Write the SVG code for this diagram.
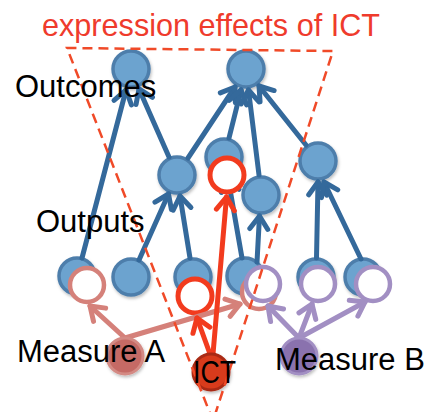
<svg xmlns="http://www.w3.org/2000/svg" width="429" height="412" viewBox="0 0 429 412">
  <defs>
    <filter id="shadow" x="-30%" y="-30%" width="160%" height="160%">
      <feDropShadow dx="1" dy="2" stdDeviation="1.5" flood-color="#000" flood-opacity="0.25"/>
    </filter>
    <marker id="arrow-blue" markerUnits="userSpaceOnUse" viewBox="-18 -12 22 24" refX="0" refY="0" markerWidth="22" markerHeight="24" orient="auto">
      <path d="M-13,-9 L0,0 L-13,9" fill="none" stroke="#34699b" stroke-width="5" stroke-linecap="round" stroke-linejoin="round"/>
    </marker>
    <marker id="arrow-red" markerUnits="userSpaceOnUse" viewBox="-18 -12 22 24" refX="0" refY="0" markerWidth="22" markerHeight="24" orient="auto">
      <path d="M-13,-9 L0,0 L-13,9" fill="none" stroke="#f23b1e" stroke-width="5" stroke-linecap="round" stroke-linejoin="round"/>
    </marker>
    <marker id="arrow-pink" markerUnits="userSpaceOnUse" viewBox="-18 -12 22 24" refX="0" refY="0" markerWidth="22" markerHeight="24" orient="auto">
      <path d="M-13,-9 L0,0 L-13,9" fill="none" stroke="#d5817a" stroke-width="5" stroke-linecap="round" stroke-linejoin="round"/>
    </marker>
    <marker id="arrow-purple" markerUnits="userSpaceOnUse" viewBox="-18 -12 22 24" refX="0" refY="0" markerWidth="22" markerHeight="24" orient="auto">
      <path d="M-13,-9 L0,0 L-13,9" fill="none" stroke="#a28fc3" stroke-width="5" stroke-linecap="round" stroke-linejoin="round"/>
    </marker>
  </defs>
  <style>
    .blue { fill: #6ca3cf; stroke: #4e7eab; stroke-width: 3.5; filter: url(#shadow); }
    .ring-red { fill: #fff; stroke: #f23b1e; stroke-width: 5; }
    .ring-pink { fill: #fff; stroke: #d5817a; stroke-width: 4.5; }
    .ring-purple { fill: #fff; stroke: #a28fc3; stroke-width: 4.5; }
    .e-blue { fill: none; stroke: #34699b; stroke-width: 5; stroke-linecap: round; marker-end: url(#arrow-blue); }
    .e-red { fill: none; stroke: #f23b1e; stroke-width: 5; stroke-linecap: round; marker-end: url(#arrow-red); }
    .e-pink { fill: none; stroke: #d5817a; stroke-width: 5; stroke-linecap: round; marker-end: url(#arrow-pink); }
    .e-purple { fill: none; stroke: #a28fc3; stroke-width: 5; stroke-linecap: round; marker-end: url(#arrow-purple); }
    .label { font-family: "Liberation Sans", Arial, sans-serif; font-size: 31px; fill: #000; }
    .title { font-family: "Liberation Sans", Arial, sans-serif; font-size: 30.5px; fill: #ef3b2c; }
    .cone { fill: none; stroke: #f04a28; stroke-width: 2.5; stroke-dasharray: 10 6; }
  </style>

  <!-- outcome and output layers -->
  <g id="outcome-1"><circle class="blue" cx="131" cy="69" r="18"/></g>
  <g id="outcome-2"><circle class="blue" cx="246" cy="69" r="18"/></g>
  <g id="mid-1"><circle class="blue" cx="177" cy="175" r="18"/></g>
  <g id="mid-2"><circle class="blue" cx="224" cy="157" r="18"/></g>
  <g id="mid-3"><circle class="blue" cx="261" cy="195" r="18"/></g>
  <g id="mid-4"><circle class="blue" cx="318" cy="161" r="18"/></g>
  <g id="output-1"><circle class="blue" cx="77" cy="276" r="18"/></g>
  <g id="output-2"><circle class="blue" cx="131" cy="277" r="18"/></g>
  <g id="output-3"><circle class="blue" cx="193" cy="277" r="18"/></g>
  <g id="output-4"><circle class="blue" cx="245" cy="276" r="18"/></g>
  <g id="output-5"><circle class="blue" cx="316" cy="277" r="18"/></g>
  <g id="output-6"><circle class="blue" cx="363" cy="277" r="18"/></g>

  <!-- causal links between layers -->
  <g id="connectors-blue">
    <path class="e-blue" d="M82,258 L126,90"/>
    <path class="e-blue" d="M169,157 L139,89"/>
    <path class="e-blue" d="M188,158 L235,87"/>
    <path class="e-blue" d="M229,138 L241,90"/>
    <path class="e-blue" d="M259,175 L248.5,90"/>
    <path class="e-blue" d="M306,145 L259,86"/>
    <path class="e-blue" d="M139,260 L168.5,194"/>
    <path class="e-blue" d="M190,258 L180,196"/>
    <path class="e-blue" d="M242,258 L228,178"/>
    <path class="e-blue" d="M257,262 L259.5,216"/>
    <path class="e-blue" d="M316.5,258 L318,182"/>
    <path class="e-blue" d="M361,259 L324,182"/>
  </g>

  <!-- highlighted targets -->
  <g id="target-ict-1"><circle class="ring-red" cx="227" cy="175" r="17"/></g>
  <g id="target-a-1"><circle class="ring-pink" cx="87" cy="285" r="17"/></g>
  <g id="target-a-2"><circle class="ring-pink" cx="259" cy="292" r="17"/></g>
  <g id="target-b-1"><circle class="ring-purple" cx="263" cy="284" r="17"/></g>
  <g id="target-b-2"><circle class="ring-purple" cx="318" cy="284" r="17"/></g>
  <g id="target-b-3"><circle class="ring-purple" cx="373" cy="284" r="17"/></g>
  <g id="target-ict-2"><circle class="ring-red" cx="195" cy="296" r="17"/></g>

  <g id="connectors-measures">
    <path class="e-pink" d="M125,338 L90,306"/>
    <path class="e-pink" d="M125,338 L240,304"/>
    <path class="e-purple" d="M299,338 L268,306"/>
    <path class="e-purple" d="M299,338 L312,304"/>
    <path class="e-purple" d="M299,338 L365,302"/>
    <path class="e-red" d="M213,354 L226.5,197"/>
    <path class="e-red" d="M210,354 L197,318"/>
  </g>

  <!-- sources -->
  <g id="measure-a"><circle cx="125" cy="356" r="18" fill="#c56b65" stroke="#d48a84" stroke-width="3" filter="url(#shadow)"/></g>
  <g id="ict"><circle cx="211" cy="372" r="18" fill="#d83a1a" stroke="#a92a12" stroke-width="3" filter="url(#shadow)"/></g>
  <g id="measure-b"><circle cx="299" cy="356" r="18" fill="#8a72ae" stroke="#a28fc3" stroke-width="3" filter="url(#shadow)"/></g>

  <!-- reach of ICT effects -->
  <path class="cone" d="M213,421 L67,48 L333,51 Z"/>

  <text class="title" x="42" y="36" textLength="338" lengthAdjust="spacingAndGlyphs">expression effects of ICT</text>
  <text class="label" x="15" y="97">Outcomes</text>
  <text class="label" x="36" y="232">Outputs</text>
  <text class="label" x="17" y="362">Measure A</text>
  <text class="label" x="193" y="383" textLength="43" lengthAdjust="spacingAndGlyphs">ICT</text>
  <text class="label" x="275" y="370">Measure B</text>
</svg>
